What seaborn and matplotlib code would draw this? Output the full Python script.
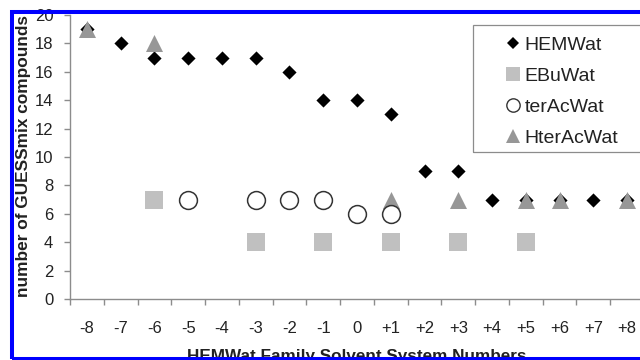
import numpy as np
import pandas as pd
import matplotlib
matplotlib.use("Agg")
import matplotlib.pyplot as plt
from matplotlib.lines import Line2D
from matplotlib.patches import Rectangle
import seaborn as sns

# ---------------- data ----------------
positions = [-8, -7, -6, -5, -4, -3, -2, -1, 0, 1, 2, 3, 4, 5, 6, 7, 8]
tick_labels = ["-8", "-7", "-6", "-5", "-4", "-3", "-2", "-1", "0",
               "+1", "+2", "+3", "+4", "+5", "+6", "+7", "+8"]
hemwat = [19, 18, 17, 17, 17, 17, 16, 14, 14, 13, 9, 9, 7, 7, 7, 7, 7]
ebuwat = [None, None, 7, None, None, 4, None, 4, None, 4, None, 4, None, 4, None, None, None]
teracwat = [None, None, None, 7, None, 7, 7, 7, 6, 6, None, None, None, None, None, None, None]
hteracwat = [19, None, 18, None, None, None, None, None, None, 7, None, 7, None, 7, 7, None, 7]
series_names = ["HEMWat", "EBuWat", "terAcWat", "HterAcWat"]
x_label = "HEMWat Family Solvent System Numbers"
y_label = "number of GUESSmix compounds"
y_ticks = [0, 2, 4, 6, 8, 10, 12, 14, 16, 18, 20]

sns.set_style("white")
plt.rcParams["font.family"] = ["Liberation Sans", "DejaVu Sans"]

W, H = 640, 360
fig = plt.figure(figsize=(6.4, 3.6), dpi=100)
fig.patch.set_facecolor("white")
ax = fig.add_axes([70 / W, 61 / H, 574 / W, 284 / H])
ax.set_facecolor("white")

def frame(vals):
    return pd.DataFrame({"x": positions,
                         "y": [np.nan if v is None else v for v in vals]}).dropna()

d_hem = frame(hemwat)
d_ebu = frame(ebuwat)
d_ter = frame(teracwat)
d_hter = frame(hteracwat)

sns.scatterplot(data=d_hem, x="x", y="y", marker="D", s=52, color="black",
                linewidth=0, ax=ax, zorder=3, clip_on=False)
sns.scatterplot(data=d_ebu, x="x", y="y", marker="s", s=150, color="#c0c0c0",
                linewidth=0, ax=ax, zorder=4, clip_on=False)
sns.scatterplot(data=d_hter, x="x", y="y", marker="^", s=150, color="#979797",
                linewidth=0, ax=ax, zorder=5, clip_on=False)
sns.scatterplot(data=d_ter, x="x", y="y", marker="o", s=165, color="white",
                edgecolor="#333333", linewidth=1.1, ax=ax, zorder=6, clip_on=False)

ax.set_xlim(-8.5, 8.5)
ax.set_ylim(0, 20)

# boundary ticks (marks), category labels (no marks)
ax.set_xticks([p - 0.5 for p in positions] + [8.5])
ax.set_xticklabels([])
ax.set_xticks(positions, minor=True)
ax.set_xticklabels(tick_labels, minor=True)
ax.tick_params(axis="x", which="major", direction="out", length=4, width=1,
               color="#8c8c8c", bottom=True)
ax.tick_params(axis="x", which="minor", length=0, pad=16, labelsize=12,
               labelcolor="#222222", bottom=True)
ax.set_yticks(y_ticks)
ax.set_yticklabels([str(v) for v in y_ticks])
ax.tick_params(axis="y", direction="out", length=4, width=1, color="#8c8c8c",
               pad=8, labelsize=12, labelcolor="#222222", left=True)

for s in ["top", "right"]:
    ax.spines[s].set_visible(False)
for s in ["left", "bottom"]:
    ax.spines[s].set_color("#8c8c8c")
    ax.spines[s].set_linewidth(1.0)
ax.grid(False)

ax.set_xlabel(x_label, fontsize=12.3, fontweight="bold", color="#222222")
ax.xaxis.set_label_coords(0.499, -0.176)
ax.set_ylabel(y_label, fontsize=12.4, fontweight="bold", color="#222222")
ax.yaxis.set_label_coords(-0.068, 0.505)

handles = [
    Line2D([], [], linestyle="none", marker="D", markersize=6.6,
           markerfacecolor="black", markeredgewidth=0),
    Line2D([], [], linestyle="none", marker="s", markersize=10,
           markerfacecolor="#c0c0c0", markeredgewidth=0),
    Line2D([], [], linestyle="none", marker="o", markersize=9.6,
           markerfacecolor="white", markeredgecolor="#333333", markeredgewidth=1.0),
    Line2D([], [], linestyle="none", marker="^", markersize=9.6,
           markerfacecolor="#979797", markeredgewidth=0),
]
leg = fig.legend(handles, series_names, loc="upper left",
                 bbox_to_anchor=(473 / W, (H - 25) / H),
                 bbox_transform=fig.transFigure, frameon=False,
                 fontsize=14, borderpad=0.6, handlelength=2.9,
                 handletextpad=-0.85, labelspacing=0.68, borderaxespad=0)
for t in leg.get_texts():
    t.set_color("#222222")

# legend box (extends past the right edge, as in the source)
legend_box = Rectangle((473 / W, 1 - 152 / H), (700 - 473) / W, (152 - 25) / H,
                       transform=fig.transFigure, fill=False,
                       edgecolor="#8c8c8c", linewidth=0.9, zorder=50)
fig.add_artist(legend_box)

# blue border around the picture
border = Rectangle((12 / W, 1 - 359 / H), (700 - 12) / W, (359 - 12) / H,
                   transform=fig.transFigure, fill=False, edgecolor="#0000ff",
                   linewidth=2.9, zorder=100)
fig.add_artist(border)

fig.savefig("out.png", dpi=100, facecolor="white")
